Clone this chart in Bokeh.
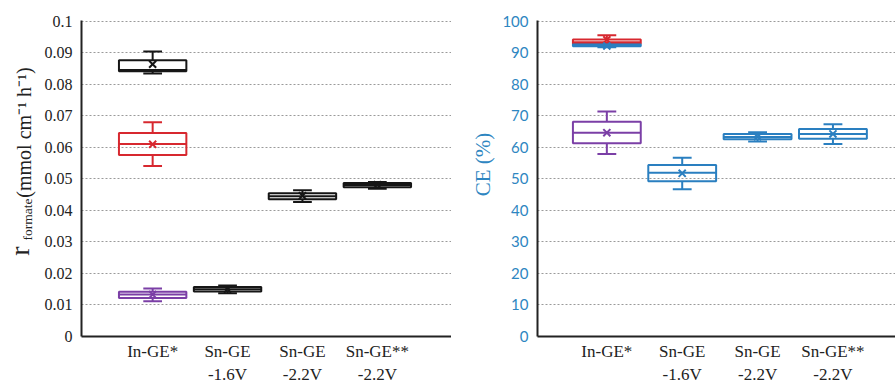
import math
from bokeh.plotting import figure
from bokeh.layouts import row, column
from bokeh.models import FixedTicker, ColumnDataSource, Spacer
from bokeh.embed import file_html
from bokeh.resources import INLINE

# ---------------- data ----------------
categories = ["In-GE*", "Sn-GE\n-1.6V", "Sn-GE\n-2.2V", "Sn-GE**\n-2.2V"]
cat_pos = [1, 2, 3, 4]

# left panel: formate rate (mmol cm-1 h-1)
r_cat = [1, 1, 1, 2, 3, 4]
r_min = [0.0835, 0.0541, 0.0112, 0.0137, 0.0427, 0.0469]
r_q1 = [0.0842, 0.0576, 0.0122, 0.0143, 0.0436, 0.0474]
r_med = [0.0846, 0.0611, 0.0133, 0.0150, 0.0445, 0.0481]
r_q3 = [0.0877, 0.0646, 0.0142, 0.0157, 0.0455, 0.0487]
r_max = [0.0905, 0.0680, 0.0152, 0.0162, 0.0464, 0.0490]
r_mean = [0.0864, 0.0610, 0.0133, 0.0150, 0.0447, 0.0482]
r_ticks = [0, 0.01, 0.02, 0.03, 0.04, 0.05, 0.06, 0.07, 0.08, 0.09, 0.1]
r_tick_labels = ["0", "0.01", "0.02", "0.03", "0.04", "0.05", "0.06", "0.07", "0.08", "0.09", "0.1"]
r_label_parts = ["r", "formate", "(mmol cm\u207b\u00b9 h\u207b\u00b9)"]

# right panel: CE (%)
ce_cat = [1, 1, 1, 2, 3, 4]
ce_min = [92.6, 91.8, 57.9, 46.7, 61.9, 61.1]
ce_q1 = [92.9, 92.1, 61.3, 49.3, 62.6, 62.8]
ce_med = [93.4, 92.4, 64.7, 52.0, 63.3, 64.3]
ce_q3 = [94.3, 92.8, 68.2, 54.4, 64.3, 65.9]
ce_max = [95.6, 93.0, 71.4, 56.7, 64.8, 67.4]
ce_mean = [94.2, 92.2, 64.7, 51.8, 63.4, 64.3]
ce_ticks = [0, 10, 20, 30, 40, 50, 60, 70, 80, 90, 100]
ce_label = "CE (%)"

# ---------------- styles ----------------
BLACK = "#161616"
RED = "#d7282f"
PURPLE = "#7b3fa6"
BLUE = "#2a7fc0"
LABEL_BLUE = "#2e86c1"
r_colors = [BLACK, RED, PURPLE, BLACK, BLACK, BLACK]
ce_colors = [RED, BLUE, PURPLE, BLUE, BLUE, BLUE]
SERIF = "Liberation Serif"
H = 387


def draw_boxes(p, cat, mn, q1, med, q3, mx, mean, colors, box_w=0.9, cap_w=0.25, lw=2):
    src = ColumnDataSource(dict(
        x=cat,
        left=[c - box_w / 2 for c in cat],
        right=[c + box_w / 2 for c in cat],
        cl=[c - cap_w / 2 for c in cat],
        cr=[c + cap_w / 2 for c in cat],
        mn=mn, q1=q1, med=med, q3=q3, mx=mx, mean=mean, color=colors,
    ))
    p.segment(x0="x", x1="x", y0="q3", y1="mx", line_color="color", line_width=lw, source=src)
    p.segment(x0="x", x1="x", y0="q1", y1="mn", line_color="color", line_width=lw, source=src)
    p.segment(x0="cl", x1="cr", y0="mx", y1="mx", line_color="color", line_width=lw, source=src)
    p.segment(x0="cl", x1="cr", y0="mn", y1="mn", line_color="color", line_width=lw, source=src)
    p.quad(left="left", right="right", bottom="q1", top="q3", fill_color=None,
           line_color="color", line_width=lw, source=src)
    p.segment(x0="left", x1="right", y0="med", y1="med", line_color="color", line_width=lw, source=src)
    p.scatter(x="x", y="mean", marker="x", size=10, line_color="color", line_width=2, source=src)


def style(p, ticks, labels, tick_font, tick_size, tick_color):
    p.outline_line_color = None
    p.xgrid.visible = False
    p.ygrid.ticker = FixedTicker(ticks=ticks)
    p.ygrid.grid_line_color = "#9a9a9a"
    p.ygrid.grid_line_dash = "2 2"
    p.ygrid.grid_line_width = 1
    ya = p.yaxis[0]
    ya.ticker = FixedTicker(ticks=ticks)
    if labels is not None:
        ya.major_label_overrides = {t: l for t, l in zip(ticks, labels)}
    ya.major_tick_line_color = None
    ya.minor_tick_line_color = None
    ya.major_tick_out = 0
    ya.major_tick_in = 0
    ya.minor_tick_out = 0
    ya.axis_line_color = "#222222"
    ya.axis_line_width = 2
    ya.major_label_text_font = tick_font
    ya.major_label_text_font_size = tick_size
    ya.major_label_text_color = tick_color
    ya.major_label_standoff = 9
    xa = p.xaxis[0]
    xa.ticker = FixedTicker(ticks=cat_pos)
    xa.major_label_overrides = {c: l for c, l in zip(cat_pos, categories)}
    xa.major_tick_line_color = None
    xa.minor_tick_line_color = None
    xa.major_tick_out = 0
    xa.major_tick_in = 0
    xa.minor_tick_out = 0
    xa.axis_line_color = "#222222"
    xa.axis_line_width = 2
    xa.major_label_text_font = SERIF
    xa.major_label_text_font_size = "17px"
    xa.major_label_text_color = "#222222"
    xa.major_label_text_line_height = 1.25
    xa.major_label_standoff = 5


def label_fig(width, height, text, size, color, border_left):
    """A tiny figure whose only visible content is a vertical axis label."""
    q = figure(width=width, height=height, x_range=(0, 1), y_range=(0, 1),
               x_axis_location=None, y_axis_location="left",
               output_backend="svg", toolbar_location=None,
               min_border_left=border_left, min_border_right=0,
               min_border_top=0, min_border_bottom=0)
    q.outline_line_color = None
    q.grid.visible = False
    ax = q.yaxis[0]
    ax.ticker = FixedTicker(ticks=[])
    ax.axis_line_color = None
    ax.major_tick_line_color = None
    ax.minor_tick_line_color = None
    ax.major_tick_out = 0
    ax.minor_tick_out = 0
    ax.axis_label = text
    ax.axis_label_text_font = SERIF
    ax.axis_label_text_font_size = size
    ax.axis_label_text_font_style = "normal"
    ax.axis_label_text_color = color
    ax.axis_label_standoff = 0
    return q


# ---------------- y-label column for left panel ----------------
fa = label_fig(40, 130, r_label_parts[2], "20px", "#222222", 33)
fb = label_fig(40, 44, r_label_parts[1], "13.5px", "#222222", 34)
fc = label_fig(40, 19, r_label_parts[0], "28px", "#222222", 33)
col0 = column(Spacer(width=40, height=67), fa, fb, fc, Spacer(width=40, height=H - 67 - 130 - 44 - 19),
              spacing=0)

# ---------------- left figure ----------------
p1 = figure(width=411, height=H, x_range=(0.05, 4.99), y_range=(0, 0.1003),
            output_backend="svg", toolbar_location=None,
            min_border_left=41, min_border_right=0, min_border_top=20, min_border_bottom=50)
style(p1, r_ticks, r_tick_labels, SERIF, "16px", "#222222")
draw_boxes(p1, r_cat, r_min, r_q1, r_med, r_q3, r_max, r_mean, r_colors)

# ---------------- y-label column for right panel ----------------
fm = label_fig(48, 128, ce_label, "21px", LABEL_BLUE, 43)
colm = column(Spacer(width=48, height=100), fm, Spacer(width=48, height=H - 100 - 128), spacing=0)

# ---------------- right figure ----------------
p2 = figure(width=396, height=H, x_range=(0.08, 4.83), y_range=(0, 100.3),
            output_backend="svg", toolbar_location=None,
            min_border_left=35, min_border_right=0, min_border_top=20, min_border_bottom=50)
style(p2, ce_ticks, None, "Lato", "15px", LABEL_BLUE)
draw_boxes(p2, ce_cat, ce_min, ce_q1, ce_med, ce_q3, ce_max, ce_mean, ce_colors)

layout = row(col0, p1, colm, p2, spacing=0)
open("out.html", "w").write(file_html(layout, INLINE))
